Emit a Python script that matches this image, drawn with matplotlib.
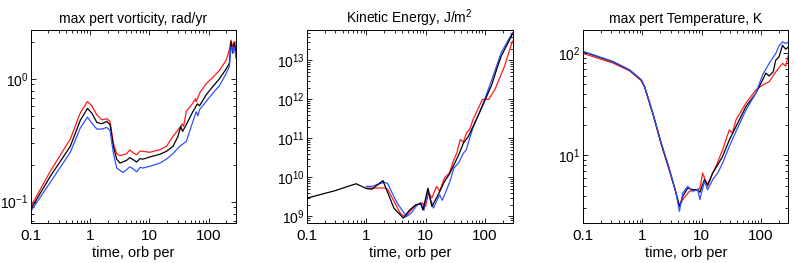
import matplotlib
matplotlib.use("Agg")
import matplotlib.pyplot as plt
from matplotlib.ticker import FixedLocator, FixedFormatter, LogLocator, NullFormatter

plt.rcParams['font.family'] = ['Liberation Sans', 'DejaVu Sans']
plt.rcParams['mathtext.default'] = 'regular'
plt.rcParams['axes.unicode_minus'] = False

# ---------------- Panel 1: max pert vorticity ----------------
vort_t_red = [0.104, 0.216, 0.468, 0.688, 0.912, 1.08, 1.31, 1.59, 1.92, 2.19, 2.49, 2.83, 3.22,
              4.16, 4.7, 5.38, 6.12, 7.0, 7.91, 10.2, 15.1, 19.5, 25.2, 32.6, 36.0, 38.0, 42.1,
              54.5, 60.0, 62.0, 70.5, 91, 118, 152, 197, 224, 239, 255, 272, 290]
vort_red = [0.0933, 0.177, 0.323, 0.526, 0.654, 0.603, 0.509, 0.464, 0.473, 0.450, 0.300, 0.246,
            0.237, 0.246, 0.263, 0.250, 0.241, 0.258, 0.257, 0.252, 0.265, 0.282, 0.340, 0.400,
            0.430, 0.410, 0.542, 0.634, 0.690, 0.650, 0.765, 0.911, 1.03, 1.17, 1.41, 1.72,
            2.07, 1.83, 2.01, 1.74]

vort_t_black = [0.104, 0.216, 0.468, 0.688, 0.912, 1.08, 1.31, 1.59, 1.92, 2.19, 2.49, 2.83, 3.22,
                4.16, 4.7, 5.38, 6.12, 7.0, 7.91, 10.2, 15.1, 19.5, 25.2, 30.5, 34.0, 36.5, 42.1,
                54.5, 65.0, 70.5, 91, 118, 152, 197, 224, 239, 255, 272, 290]
vort_black = [0.0888, 0.161, 0.282, 0.458, 0.574, 0.526, 0.442, 0.431, 0.450, 0.423, 0.282, 0.222,
              0.206, 0.217, 0.228, 0.220, 0.210, 0.224, 0.222, 0.231, 0.243, 0.257, 0.282, 0.340,
              0.410, 0.373, 0.423, 0.542, 0.626, 0.603, 0.741, 0.866, 1.0, 1.20, 1.34, 2.01,
              1.62, 1.95, 1.62]

vort_t_blue = [0.104, 0.216, 0.468, 0.688, 0.912, 1.08, 1.31, 1.59, 1.92, 2.19, 2.49, 2.83, 3.6,
               4.16, 4.7, 5.38, 6.12, 7.0, 7.91, 10.2, 15.1, 19.5, 25.2, 32.6, 42.1, 54.5,
               62.0, 66.0, 70.5, 91, 118, 152, 197, 224, 239, 255, 272, 290]
vort_blue = [0.0851, 0.144, 0.252, 0.397, 0.488, 0.436, 0.390, 0.390, 0.402, 0.380, 0.249, 0.188,
             0.173, 0.182, 0.192, 0.185, 0.175, 0.190, 0.188, 0.194, 0.206, 0.222, 0.246, 0.282,
             0.309, 0.450, 0.540, 0.500, 0.560, 0.654, 0.765, 0.877, 1.10, 1.26, 1.83, 1.67,
             1.83, 1.47]

# ---------------- Panel 2: kinetic energy ----------------
ke_t_black = [0.1, 0.3, 0.67, 1.0, 1.24, 1.90, 2.91, 4.2, 5.38, 6.87, 8.26, 9.0, 10.9, 12.7,
              16.2, 20.7, 25.0, 29.9, 36.0, 43.2, 52.0, 62.5, 75.0, 90.2, 130, 160, 188, 289]
ke_black = [2.95e9, 4.6e9, 6.9e9, 5.2e9, 5.0e9, 8.3e9, 1.64e9, 9.1e8, 1.48e9, 2.0e9, 2.1e9,
            1.48e9, 5.3e9, 1.8e9, 3.6e9, 7.9e9, 1.2e10, 2.1e10, 3.8e10, 7.6e10, 1.1e11, 2.0e11,
            3.6e11, 6.7e11, 2.4e12, 6.5e12, 1.3e13, 4.7e13]

ke_t_red = [1.0, 1.24, 2.0, 2.28, 3.72, 4.48, 5.38, 6.87, 8.78, 9.93, 11.2, 12.7, 15.3, 17.2,
            20.7, 25.0, 29.9, 33.0, 38.3, 43.0, 48.9, 55.0, 62.5, 90.2, 115, 147, 213, 289]
ke_red = [5.35e9, 5.35e9, 5.35e9, 5.0e9, 1.22e9, 9.6e8, 1.34e9, 2.0e9, 2.2e9, 1.8e9, 4.0e9,
          3.0e9, 5.9e9, 4.4e9, 9.7e9, 1.3e10, 2.9e10, 4.0e10, 9.4e10, 8.0e10, 1.4e11, 1.7e11,
          3.0e11, 1.0e12, 1.0e12, 1.8e12, 7.1e12, 3.1e13]

ke_t_blue = [1.0, 1.24, 2.0, 2.28, 3.30, 4.75, 5.7, 6.87, 8.26, 9.33, 10.9, 13.5, 17.2, 19.0,
             22, 26.0, 29.9, 36.0, 43.2, 48.0, 55.0, 62.5, 90.2, 130, 188, 289]
ke_blue = [5.9e9, 5.9e9, 7.5e9, 7.0e9, 2.2e9, 1.0e9, 1.22e9, 1.8e9, 2.3e9, 1.43e9, 4.4e9, 1.64e9,
           3.6e9, 2.6e9, 4.4e9, 8.5e9, 1.74e10, 2.4e10, 4.2e10, 5.0e10, 1.0e11, 1.86e11,
           7.0e11, 3.2e12, 1.6e13, 5.1e13]

# ---------------- Panel 3: max pert temperature ----------------
temp_t_black = [0.1, 0.319, 0.608, 0.956, 1.09, 1.50, 2.07, 2.86, 3.70, 4.21, 4.80, 5.82, 7.06,
                8.57, 9.3, 11.1, 12.6, 15.3, 18.6, 22.5, 29.2, 37.8, 55.6, 81.8, 106, 120, 137,
                160, 177, 200, 230, 260, 290]
temp_black = [104, 82.8, 68.7, 54.8, 47.1, 25.8, 13.1, 7.18, 4.24, 3.14, 3.94, 4.74, 4.57, 4.57,
              4.31, 5.73, 5.11, 6.66, 8.04, 9.7, 14.1, 19.1, 30.0, 40.6, 54.8, 64.0, 60.0, 66.0,
              86.0, 92.0, 120, 110, 116]

temp_t_red = [0.1, 0.319, 0.608, 0.956, 1.09, 1.50, 2.07, 2.86, 3.70, 4.21, 4.80, 6.2, 8.04, 9.3,
              10.4, 12.6, 15.3, 17.4, 22.5, 29.2, 33.0, 37.8, 55.6, 81.8, 106, 137, 177, 230,
              260, 290]
temp_red = [100, 80.5, 67.5, 54.0, 46.5, 25.5, 12.8, 7.0, 4.2, 3.14, 3.65, 4.41, 4.57, 4.7,
            6.66, 4.93, 6.66, 7.74, 11.3, 17.7, 16.5, 22.2, 32.4, 43.7, 49.0, 52.7, 66.0, 79.8,
            75.0, 96.4]

temp_t_blue = [0.1, 0.319, 0.608, 0.956, 1.09, 1.50, 2.07, 2.86, 3.70, 4.21, 4.80, 5.82, 7.06,
               8.57, 9.3, 11.1, 12.6, 15.3, 18.6, 22.5, 29.2, 37.8, 55.6, 81.8, 106, 137,
               177, 200, 230, 260, 290]
temp_blue = [105, 83.5, 69.0, 55.2, 47.5, 26.0, 13.3, 7.3, 4.2, 2.8, 4.24, 4.93, 4.41, 4.57,
             3.65, 5.52, 4.57, 5.73, 6.66, 8.35, 12.2, 17.1, 27.8, 40.6, 61.4, 79.8, 100,
             118, 130, 125, 130]

x_ticks = [0.1, 1, 10, 100]
x_ticklabels = ['0.1', '1', '10', '100']
titles = ['max pert vorticity, rad/yr', 'Kinetic Energy, J/m$^2$', 'max pert Temperature, K']
xlabel = 'time, orb per'

RED = '#ff1a1a'
BLACK = '#000000'
BLUE = '#3050ff'

fig = plt.figure(figsize=(7.95, 2.63), dpi=100)
W, H = 795.0, 263.0
lefts = [30.5, 307, 583]
aw = 205.5
top, bottom = 30, 223

panels = [
    [(vort_t_red, vort_red, RED), (vort_t_black, vort_black, BLACK), (vort_t_blue, vort_blue, BLUE)],
    [(ke_t_red, ke_red, RED), (ke_t_blue, ke_blue, BLUE), (ke_t_black, ke_black, BLACK)],
    [(temp_t_red, temp_red, RED), (temp_t_black, temp_black, BLACK), (temp_t_blue, temp_blue, BLUE)],
]
ylims = [(0.067, 2.5), (6.8e8, 6e13), (2.15, 170)]

for i, series in enumerate(panels):
    ax = fig.add_axes([lefts[i] / W, 1 - bottom / H, aw / W, (bottom - top) / H])
    for t, v, c in series:
        ax.plot(t, v, color=c, lw=0.9)
    ax.set_xscale('log')
    ax.set_yscale('log')
    ax.set_xlim(0.1, 290)
    ax.set_ylim(*ylims[i])
    ax.xaxis.set_major_locator(FixedLocator(x_ticks))
    ax.xaxis.set_major_formatter(FixedFormatter(x_ticklabels))
    ax.xaxis.set_minor_locator(LogLocator(base=10, subs=range(2, 10), numticks=20))
    ax.xaxis.set_minor_formatter(NullFormatter())
    ax.yaxis.set_minor_locator(LogLocator(base=10, subs=range(2, 10), numticks=20))
    ax.yaxis.set_minor_formatter(NullFormatter())
    ax.tick_params(which='both', direction='in', top=True, right=True, width=0.6)
    ax.tick_params(axis='x', which='major', labelsize=11, pad=4, length=3.5)
    ax.tick_params(axis='y', which='major', labelsize=10, pad=1.5, length=3.5)
    ax.tick_params(which='minor', length=2)
    for s in ax.spines.values():
        s.set_linewidth(0.7)
    ax.set_title(titles[i], fontsize=10, pad=5)
    ax.set_xlabel(xlabel, fontsize=10.5, labelpad=2.5)

fig.savefig('out.png', dpi=100)
